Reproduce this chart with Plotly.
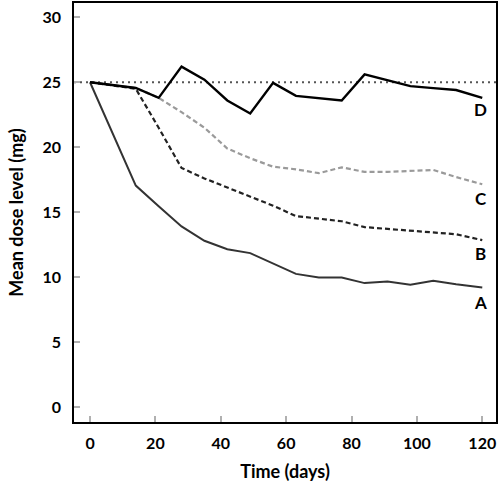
import plotly.graph_objects as go

days = [0, 14, 21, 28, 35, 42, 49, 56, 63, 70, 77, 84, 91, 98, 105, 112, 120]
A = [25, 17.05, 15.45, 13.9, 12.8, 12.15, 11.85, 11.05, 10.25, 9.97, 9.97, 9.54, 9.67, 9.41, 9.72, 9.45, 9.2]
B = [25, 24.5, 21.5, 18.4, 17.6, 16.9, 16.2, 15.5, 14.7, 14.5, 14.3, 13.85, 13.7, 13.6, 13.45, 13.3, 12.85]
C = [25, 24.56, 23.8, 22.7, 21.5, 19.9, 19.15, 18.5, 18.3, 18.0, 18.45, 18.1, 18.1, 18.2, 18.25, 17.7, 17.15]
D = [25, 24.56, 23.8, 26.2, 25.2, 23.6, 22.6, 24.95, 23.95, 23.8, 23.6, 25.6, 25.15, 24.7, 24.55, 24.4, 23.8]
baseline = 25
labels = ["A", "B", "C", "D"]
label_y = [8.05, 11.8, 16.05, 22.9]
x_ticks = [0, 20, 40, 60, 80, 100, 120]
y_ticks = [0, 5, 10, 15, 20, 25, 30]

font_family = "Lato"

fig = go.Figure()
fig.add_shape(type="line", xref="paper", x0=0, x1=1, yref="y", y0=baseline, y1=baseline,
              line=dict(color="#555555", width=1.8, dash="2px,4px"), layer="below")

fig.add_trace(go.Scatter(x=days, y=C, mode="lines", line=dict(color="#9a9a9a", width=2.2, dash="5px,3px")))
fig.add_trace(go.Scatter(x=days, y=B, mode="lines", line=dict(color="#222222", width=2.2, dash="5px,3px")))
fig.add_trace(go.Scatter(x=days, y=A, mode="lines", line=dict(color="#333333", width=2)))
fig.add_trace(go.Scatter(x=days, y=D, mode="lines", line=dict(color="#000000", width=2.4)))

for lab, ly in zip(labels, label_y):
    fig.add_annotation(x=119.5, y=ly, text="<b>%s</b>" % lab, showarrow=False,
                       font=dict(family=font_family, size=17, color="black"))

axis_common = dict(showgrid=False, zeroline=False, showline=True, linecolor="black", linewidth=1.5,
                   mirror=True, ticks="inside", ticklen=6, tickwidth=2, tickcolor="#b0b0b0",
                   tickfont=dict(family=font_family, size=16, color="black", weight="bold"))

fig.update_xaxes(range=[-4.9, 124.2], tickvals=x_ticks, ticklabelstandoff=6,
                 title=dict(text="<b>Time (days)</b>", font=dict(family=font_family, size=18, color="black"), standoff=14),
                 **axis_common)
fig.update_yaxes(range=[-1.15, 31.1], tickvals=y_ticks, ticklabelstandoff=8,
                 title=dict(text="<b>Mean dose level (mg)</b>", font=dict(family=font_family, size=18, color="black"), standoff=14),
                 **axis_common)

fig.update_layout(width=500, height=486, margin=dict(l=74, r=4, t=1, b=64),
                  plot_bgcolor="white", paper_bgcolor="white", showlegend=False)

fig.write_html("out.html", config={"displayModeBar": False},
               post_script="document.body.style.margin='0';document.body.style.padding='0';")
